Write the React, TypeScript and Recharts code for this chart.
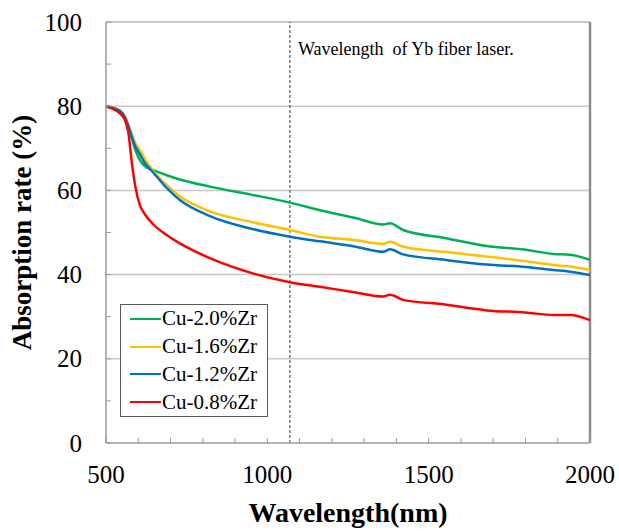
import {
  Legend,
  Line,
  LineChart,
  ReferenceLine,
  XAxis,
  YAxis,
} from 'recharts';

// 波長（nm）と各合金の吸収率（%）。グラフから目視で読み取った値。
const wavelengths = [
  500, 520, 543, 559, 569, 580, 590, 605, 620, 647, 688, 729, 822, 950, 1070,
  1163, 1270, 1359, 1380, 1421, 1550, 1680, 1800, 1886, 1938, 2000,
];
const cu20 = [
  80, 79.7, 78.7, 76.8, 74.5, 72.4, 69.8, 67.2, 65.8, 64.8, 63.6, 62.6, 60.9, 59.0, 57.1,
  55.3, 53.5, 51.9, 52.2, 50.6, 48.7, 46.8, 45.9, 44.9, 44.7, 43.5,
];
const cu16 = [
  80, 79.7, 79.0, 77.6, 75.8, 73.4, 71.4, 69.6, 67.6, 64.6, 61.3, 58.6, 55.0, 52.5, 50.6,
  49.0, 48.2, 47.3, 47.8, 46.6, 45.4, 44.3, 43.2, 42.3, 41.9, 41.1,
];
const cu12 = [
  80, 79.6, 78.9, 77.3, 75.3, 72.8, 70.6, 68.6, 66.6, 64.2, 60.6, 57.7, 53.9, 50.9, 49.0,
  47.9, 46.7, 45.4, 46.0, 44.8, 43.5, 42.4, 41.8, 41.1, 40.7, 39.9,
];
const cu08 = [
  80, 79.4, 78.3, 76.7, 73.9, 66.6, 61.3, 56.5, 54.4, 51.9, 49.4, 47.4, 43.9, 40.4, 38.2,
  37.1, 35.8, 34.8, 35.2, 34.0, 32.9, 31.5, 31.0, 30.4, 30.4, 29.2,
];

const xTicks = [500, 600, 700, 800, 900, 1000, 1100, 1200, 1300, 1400, 1500, 1600, 1700, 1800, 1900, 2000];
const yTicks = [0, 10, 20, 30, 40, 50, 60, 70, 80, 90, 100];
const gridValues = [20, 40, 60, 80];
const laserWavelength = 1070;

const series = [
  { key: 'Cu-2.0%Zr', values: cu20, color: '#00b050' },
  { key: 'Cu-1.6%Zr', values: cu16, color: '#ffc000' },
  { key: 'Cu-1.2%Zr', values: cu12, color: '#0070c0' },
  { key: 'Cu-0.8%Zr', values: cu08, color: '#ff0000' },
];
const seriesOrder = series.map((s) => s.key);

const data = wavelengths.map((w, i) => {
  const row: Record<string, number> = { wavelength: w };
  series.forEach((s) => {
    row[s.key] = s.values[i];
  });
  return row;
});

const FONT = "'Liberation Serif', 'Times New Roman', serif";
const AXIS_GRAY = '#9a9a9a';
const X_MARGIN = 40;
const Y_MARGIN = 24;

function XTick(props: any) {
  const { x, y, payload } = props;
  const axisY = y - X_MARGIN;
  return (
    <g>
      <line x1={x} x2={x} y1={axisY} y2={axisY - 5} stroke={AXIS_GRAY} />
      {payload.value % 500 === 0 && (
        <text x={x} y={y} textAnchor="middle" fontSize={25} fontFamily={FONT} fill="#000">
          {payload.value}
        </text>
      )}
    </g>
  );
}

function YTick(props: any) {
  const { x, y, payload } = props;
  const axisX = x + Y_MARGIN;
  return (
    <g>
      <line x1={axisX} x2={axisX + 5} y1={y} y2={y} stroke={AXIS_GRAY} />
      {payload.value % 20 === 0 && (
        <text x={x} y={y} dy="0.34em" textAnchor="end" fontSize={25} fontFamily={FONT} fill="#000">
          {payload.value}
        </text>
      )}
    </g>
  );
}

function LegendBox({ payload }: any) {
  // 凡例は系列の定義順（2.0 → 0.8）で並べる
  const items = [...(payload || [])].sort(
    (a: any, b: any) => seriesOrder.indexOf(a.value) - seriesOrder.indexOf(b.value)
  );
  return (
    <div
      style={{
        boxSizing: 'border-box',
        width: 148,
        height: 113,
        border: '1px solid #595959',
        background: '#fff',
        fontFamily: FONT,
        fontSize: 21,
        color: '#000',
      }}
    >
      {items.map((p: any) => (
        <div key={p.value} style={{ display: 'flex', alignItems: 'center', height: 27.75 }}>
          <span
            style={{ display: 'inline-block', width: 31, height: 2, background: p.color, marginLeft: 9, marginRight: 1 }}
          />
          <span style={{ lineHeight: 1 }}>{p.value}</span>
        </div>
      ))}
    </div>
  );
}

export default function App() {
  return (
    <div style={{ position: 'absolute', left: 0, top: 0, background: '#fff' }}>
      <LineChart width={619} height={531} data={data} margin={{ top: 22, right: 29, left: 0, bottom: 0 }}>
        <XAxis
          dataKey="wavelength"
          type="number"
          domain={[500, 2000]}
          ticks={xTicks}
          interval={0}
          height={88}
          tickSize={0}
          tickMargin={X_MARGIN}
          tickLine={false}
          axisLine={{ stroke: AXIS_GRAY, strokeWidth: 1.5 }}
          tick={<XTick />}
          label={{
            content: (p: any) => {
              const vb = p.viewBox;
              return (
                <text
                  x={vb.x + vb.width / 2}
                  y={vb.y + 79}
                  textAnchor="middle"
                  fontSize={28}
                  fontWeight="bold"
                  fontFamily={FONT}
                  fill="#000"
                >
                  Wavelength(nm)
                </text>
              );
            },
          }}
        />
        <YAxis
          type="number"
          domain={[0, 100]}
          ticks={yTicks}
          interval={0}
          width={106}
          tickSize={0}
          tickMargin={Y_MARGIN}
          tickLine={false}
          axisLine={{ stroke: AXIS_GRAY, strokeWidth: 1.5 }}
          tick={<YTick />}
          label={{
            content: (p: any) => {
              const vb = p.viewBox;
              const cx = vb.x + 31;
              const cy = vb.y + vb.height / 2;
              return (
                <text
                  x={cx}
                  y={cy}
                  transform={`rotate(-90, ${cx}, ${cy})`}
                  textAnchor="middle"
                  fontSize={27}
                  fontWeight="bold"
                  fontFamily={FONT}
                  fill="#000"
                >
                  Absorption rate (%)
                </text>
              );
            },
          }}
        />
        {gridValues.map((v) => (
          <ReferenceLine key={v} y={v} stroke="#c8c8c8" strokeWidth={1.5} />
        ))}
        <ReferenceLine y={100} stroke="#b4b4b4" strokeWidth={1.5} />
        <ReferenceLine x={2000} stroke="#8c8c8c" strokeWidth={2.5} />
        <ReferenceLine
          x={laserWavelength}
          stroke="#333"
          strokeDasharray="3 2"
          strokeWidth={1}
          label={{
            content: (p: any) => {
              const vb = p.viewBox;
              return (
                <text
                  x={vb.x + 8}
                  y={vb.y + 33}
                  fontSize={18}
                  fontFamily={FONT}
                  fill="#000"
                  style={{ whiteSpace: 'pre' }}
                >
                  {'Wavelength  of Yb fiber laser.'}
                </text>
              );
            },
          }}
        />
        {series.map((s) => (
          <Line
            key={s.key}
            type="monotone"
            dataKey={s.key}
            stroke={s.color}
            strokeWidth={2.5}
            dot={false}
            isAnimationActive={false}
          />
        ))}
        <Legend
          layout="vertical"
          align="center"
          verticalAlign="middle"
          content={<LegendBox />}
          wrapperStyle={{ position: 'absolute', left: 120, top: 304, width: 148, height: 113 }}
        />
      </LineChart>
    </div>
  );
}
